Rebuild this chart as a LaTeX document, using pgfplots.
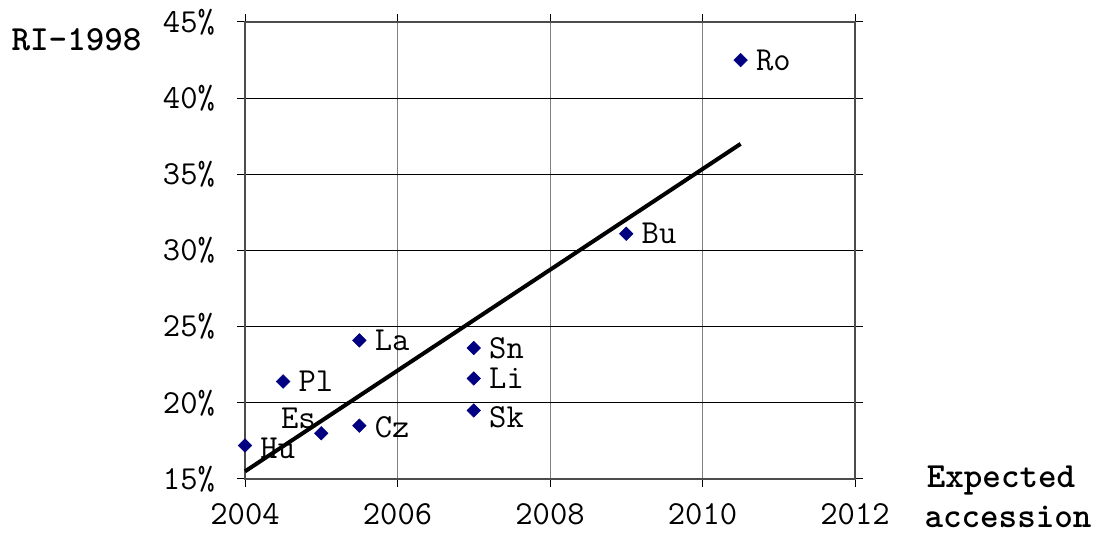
\documentclass[border=0pt]{standalone}
\usepackage{fontspec}
\renewcommand{\familydefault}{\ttdefault}
\usepackage{pgfplots}
\pgfplotsset{compat=1.18}
\definecolor{navy}{RGB}{0,0,128}
\begin{document}
\fontsize{25.2}{30}\selectfont
\begin{tikzpicture}
\path[use as bounding box] (0,0) rectangle (830.25pt,400.5pt);
\begin{axis}[
  at={(183.75pt,41.25pt)}, anchor=south west,
  scale only axis, width=457.5pt, height=342.75pt,
  xmin=2004, xmax=2012, ymin=15, ymax=45,
  xtick={2004,2006,2008,2010,2012},
  ytick={15,20,25,30,35,40,45},
  /pgf/number format/assume math mode=true,
  /pgf/number format/1000 sep={},
  yticklabel={\pgfmathprintnumber{\tick}\%},
  grid=major,
  x grid style={gray, line width=0.75pt},
  y grid style={black, line width=0.6pt},
  axis line style={black!70, line width=0.9pt},
  tick align=outside, major tick length=6pt,
  tick style={black, line width=0.75pt},
  xticklabel style={inner sep=1pt, yshift=-11pt},
  yticklabel style={xshift=-8pt},
  clip=false,
]
\addplot[black, line width=3pt] coordinates {(2004,15.5) (2010.5,37.0)};
\addplot[only marks, mark=square*, mark size=3.6pt,
  mark options={rotate=45, fill=navy, draw=navy},
  nodes near coords, point meta=explicit symbolic,
  visualization depends on={\thisrow{dy} \as \dy},
  every node near coord/.style={anchor=west, xshift=3pt, yshift=\dy pt, text=black}]
 table[meta=label] {
x y label dy
2004 17.2 Hu -2
2004.5 21.4 Pl 0
2005.5 18.5 Cz -1.5
2005.5 24.1 La 0
2007 23.6 Sn 0
2007 21.6 Li 0
2007 19.5 Sk -5
2009 31.1 Bu 0
2010.5 42.5 Ro 0
};
\addplot[only marks, mark=square*, mark size=3.6pt,
  mark options={rotate=45, fill=navy, draw=navy},
  nodes near coords, point meta=explicit symbolic,
  every node near coord/.style={anchor=base east, xshift=4.5pt, yshift=3.75pt, text=black}]
 table[meta=label] {
x y label
2005 18.0 Es
};
\end{axis}
\node[inner sep=0pt, font=\bfseries\fontsize{26.5}{30}\selectfont] at (57.4pt,370.5pt) {RI-1998};
\node[inner sep=0pt, font=\bfseries\fontsize{26.5}{30}\selectfont] at (750.75pt,40pt) {Expected};
\node[inner sep=0pt, font=\bfseries\fontsize{26.5}{30}\selectfont] at (756pt,12.5pt) {accession};
\end{tikzpicture}
\end{document}
